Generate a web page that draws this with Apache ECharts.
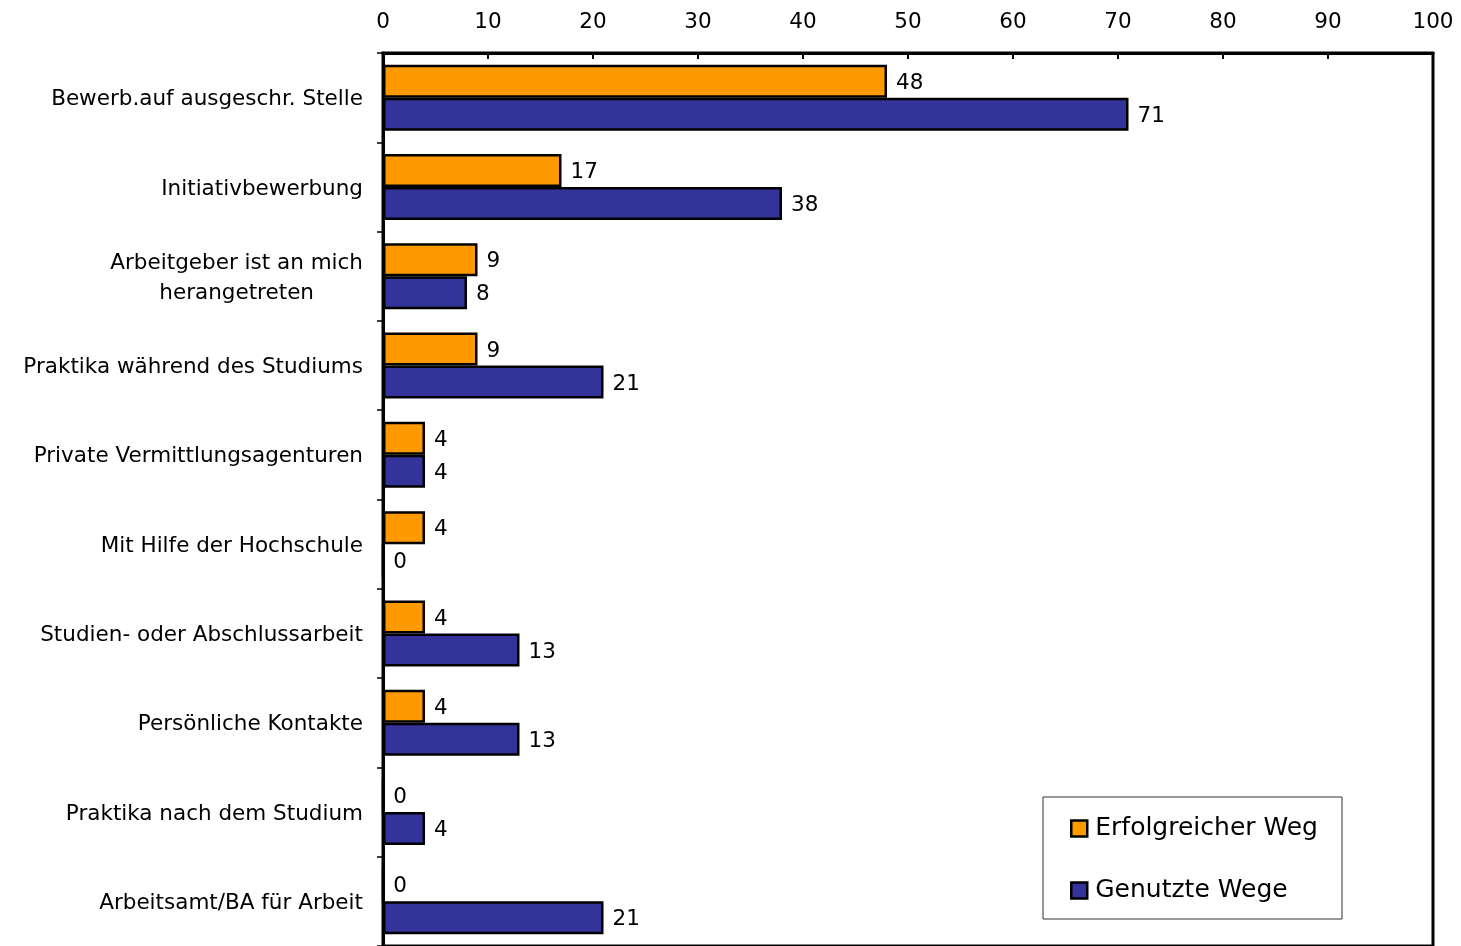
<!DOCTYPE html>
<html><head><meta charset="utf-8">
<script src="https://cdn.jsdelivr.net/npm/echarts/dist/echarts.min.js"></script>
<style>html,body{margin:0;padding:0;background:#fff}#c{width:1461px;height:946px}</style>
</head><body><div id="c"></div>
<script>
const categories = [
  'Bewerb.auf ausgeschr. Stelle',
  'Initiativbewerbung',
  'Arbeitgeber ist an mich\nherangetreten',
  'Praktika während des Studiums',
  'Private Vermittlungsagenturen',
  'Mit Hilfe der Hochschule',
  'Studien- oder Abschlussarbeit',
  'Persönliche Kontakte',
  'Praktika nach dem Studium',
  'Arbeitsamt/BA für Arbeit'
];
const seriesNames = ['Erfolgreicher Weg', 'Genutzte Wege'];
const erfolgreich = [48, 17, 9, 9, 4, 4, 4, 4, 0, 0];
const genutzt = [71, 38, 8, 21, 4, 0, 13, 13, 4, 21];
const xMin = 0, xMax = 100, xStep = 10;

const FONT = 'DejaVu Sans';
const FS = 21.5;
const chart = echarts.init(document.getElementById('c'), null, {renderer: 'canvas'});
const labelCfg = {show: true, position: 'right', distance: 9, offset: [0, 2], color: '#000', fontSize: FS, fontFamily: FONT};
chart.setOption({
  animation: false,
  backgroundColor: '#fff',
  grid: {left: 383, top: 53, width: 1050, height: 895.6, show: true, borderColor: '#000', borderWidth: 3, backgroundColor: 'transparent'},
  xAxis: {
    type: 'value', position: 'top', min: xMin, max: xMax, interval: xStep,
    axisLine: {show: true, lineStyle: {color: '#000', width: 3}},
    axisTick: {show: true, inside: true, length: 6, lineStyle: {color: '#000', width: 2}},
    axisLabel: {color: '#000', fontSize: FS, fontFamily: FONT, margin: 20},
    splitLine: {show: false}
  },
  yAxis: {
    type: 'category', data: categories, inverse: true,
    axisLine: {show: true, lineStyle: {color: '#000', width: 3}},
    axisTick: {show: true, length: 6, lineStyle: {color: '#000', width: 1.5}},
    axisLabel: {
      color: '#000', fontSize: FS, fontFamily: FONT, margin: 20, align: 'right', lineHeight: 30,
      padding: [4, 0, 0, 0],
      formatter: v => v.split('\n').map(s => '{c|' + s + '}').join('\n'),
      rich: {c: {align: 'center', color: '#000', fontSize: FS, fontFamily: FONT, lineHeight: 30}}
    }
  },
  legend: {
    orient: 'vertical', left: 1043, top: 797,
    data: seriesNames,
    icon: 'rect', itemWidth: 16, itemHeight: 16, itemGap: 37,
    padding: [19, 24, 16, 27],
    borderColor: '#333', borderWidth: 1, backgroundColor: '#fff',
    textStyle: {color: '#000', fontSize: 25, fontFamily: FONT, lineHeight: 25, padding: [0, 0, 0, 3]},
    itemStyle: {borderColor: '#000', borderWidth: 2.5}
  },
  series: [
    {name: seriesNames[0], type: 'bar', data: erfolgreich, barWidth: 33, barGap: '0%',
     itemStyle: {color: '#FF9900', borderColor: '#000', borderWidth: 2.5}, label: labelCfg},
    {name: seriesNames[1], type: 'bar', data: genutzt, barWidth: 33, barGap: '0%',
     itemStyle: {color: '#333399', borderColor: '#000', borderWidth: 2.5}, label: labelCfg}
  ]
});
</script></body></html>
